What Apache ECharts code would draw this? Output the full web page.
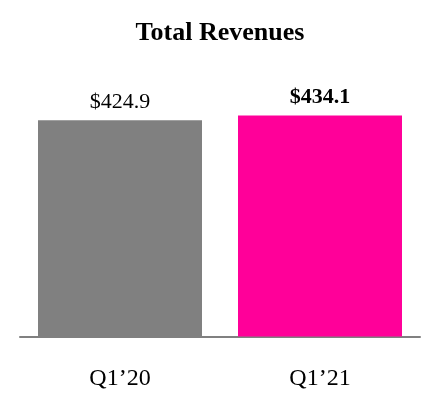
<!DOCTYPE html>
<html><head><meta charset="utf-8">
<script src="https://cdn.jsdelivr.net/npm/echarts@6/dist/echarts.min.js"></script>
<style>html,body{margin:0;padding:0;background:#fff}#c{width:440px;height:400px}</style>
</head><body><div id="c"></div>
<script>
const categories = ["Q1\u201920", "Q1\u201921"];
const values = [424.9, 434.1];
const valueLabels = ["$424.9", "$434.1"];
const barColors = ["#808080", "#FF0099"];
const labelBold = [false, true];

const chart = echarts.init(document.getElementById('c'), null, {renderer: 'canvas'});
const font = "'Liberation Serif', 'Times New Roman', serif";
chart.setOption({
  animation: false,
  title: {text: 'Total Revenues', left: 'center', top: 15,
    textStyle: {fontFamily: font, fontSize: 26, fontWeight: 'bold', color: '#000'}},
  grid: {left: 20, right: 20, top: 82, bottom: 63.5, containLabel: false},
  xAxis: {type: 'category', data: categories,
    axisLine: {lineStyle: {color: '#808080', width: 2}},
    axisTick: {show: false},
    axisLabel: {fontFamily: font, fontSize: 24, color: '#000', margin: 30}},
  yAxis: {type: 'value', min: 0, max: 500, show: false, splitLine: {show: false}},
  series: [{type: 'bar', barCategoryGap: '18%',
    data: values.map((v, i) => ({value: v, itemStyle: {color: barColors[i]},
      label: {show: true, position: 'top', distance: 7, formatter: valueLabels[i],
        fontFamily: font, fontSize: 22, color: '#000', fontWeight: labelBold[i] ? 'bold' : 'normal'}}))
  }]
});
</script></body></html>
